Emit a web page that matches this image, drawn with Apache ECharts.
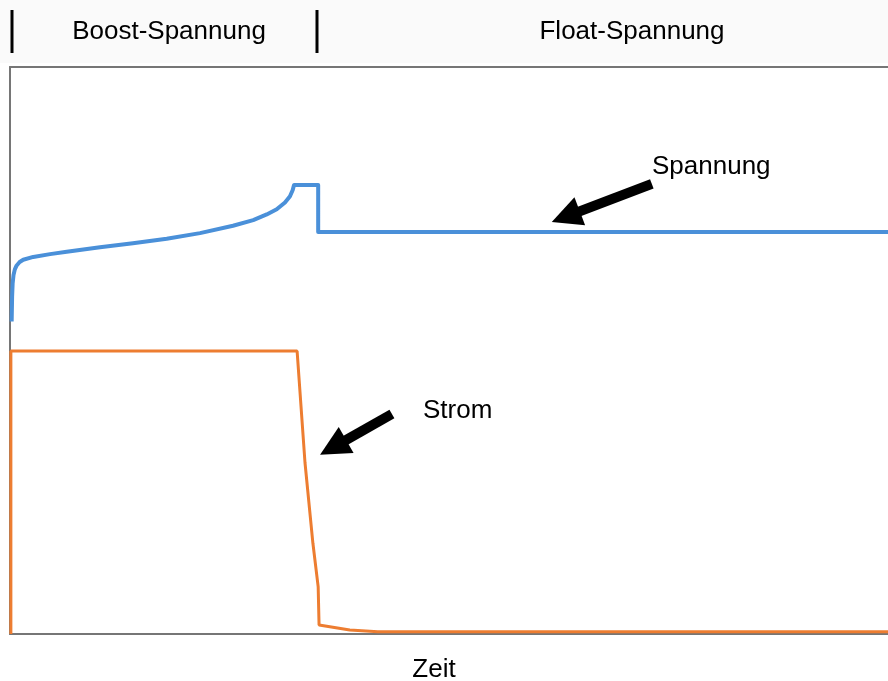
<!DOCTYPE html>
<html>
<head>
<meta charset="utf-8">
<script src="https://cdn.jsdelivr.net/npm/echarts@6/dist/echarts.min.js"></script>
<style>
  html, body { margin: 0; padding: 0; background: #fff; }
  #main { width: 888px; height: 681px; }
</style>
</head>
<body>
<div id="main"></div>
<script>
// time in % of the window, values in % of plot height
const spannungZeit = [0.19, 0.24, 0.3, 0.4, 0.55, 0.76, 1.1, 1.51, 2.65, 4.56, 6.46, 10.25, 14.0, 17.85, 21.64, 25.4, 27.7, 29.24, 30.38, 31.32, 31.89, 32.2, 32.35, 35.1, 35.1, 100]
const spannungWert = [55.1, 59.5, 61.8, 63.3, 64.3, 65.0, 65.6, 66.0, 66.5, 67.0, 67.4, 68.2, 68.9, 69.7, 70.7, 72.0, 73.0, 74.0, 74.9, 76.1, 77.2, 78.3, 79.2, 79.2, 70.9, 70.9]
const stromZeit = [0.1, 0.1, 32.7, 33.6, 34.5, 35.1, 35.2, 38.7, 41.9, 100]
const stromWert = [0, 49.9, 49.9, 30.2, 16.0, 8.3, 1.6, 0.7, 0.4, 0.4]
const phasen = ['Boost-Spannung', 'Float-Spannung']
const phasenMitte = [169, 632]
const phasenTrenner = [12, 317]

const chart = echarts.init(document.getElementById('main'))

const pair = (xs, ys) => xs.map((x, i) => [x, ys[i]])
const axisGray = '#767676'
const font = 'Arial, "Liberation Sans", sans-serif'
const txt = (s, x, y, align) => ({type: 'text', x: x, y: y, style: {text: s, fill: '#000', font: '26px ' + font, align: align, verticalAlign: 'middle'}})

const graphic = []
graphic.push({type: 'rect', shape: {x: 0, y: 0, width: 888, height: 63}, style: {fill: '#fafafa'}, z: -1})
phasenTrenner.forEach(x => {
  graphic.push({type: 'rect', shape: {x: x - 1.5, y: 10, width: 3, height: 43}, style: {fill: '#000'}})
})
phasen.forEach((p, i) => graphic.push(txt(p, phasenMitte[i], 32, 'center')))
graphic.push(txt('Zeit', 434, 670, 'center'))
graphic.push(txt('Spannung', 652, 167, 'left'))
graphic.push(txt('Strom', 423, 411, 'left'))

const arrow = (from, to) => ({
  silent: true, symbol: ['none', 'triangle'], symbolSize: [30, 30],
  lineStyle: {color: '#000', width: 10, type: 'solid', cap: 'butt'},
  itemStyle: {color: '#000'},
  label: {show: false},
  data: [[{coord: from}, {coord: to}]]
})

chart.setOption({
  animation: false,
  backgroundColor: '#fff',
  grid: {left: 10, right: 0, top: 67, bottom: 47},
  xAxis: [
    {type: 'value', min: 0, max: 100, axisLine: {lineStyle: {color: axisGray, width: 2}}, axisTick: {show: false}, axisLabel: {show: false}, splitLine: {show: false}},
    {type: 'value', position: 'top', min: 0, max: 100, axisLine: {show: true, lineStyle: {color: axisGray, width: 2}}, axisTick: {show: false}, axisLabel: {show: false}, splitLine: {show: false}}
  ],
  yAxis: {type: 'value', min: 0, max: 100, axisLine: {show: true, lineStyle: {color: axisGray, width: 2}}, axisTick: {show: false}, axisLabel: {show: false}, splitLine: {show: false}},
  graphic: graphic,
  series: [
    {
      name: 'Strom', type: 'line', data: pair(stromZeit, stromWert), showSymbol: false,
      lineStyle: {color: '#ed7d31', width: 3}, z: 3,
      markLine: arrow([43.5, 38.8], [36.8, 32.9])
    },
    {
      name: 'Spannung', type: 'line', data: pair(spannungZeit, spannungWert), showSymbol: false,
      lineStyle: {color: '#4a90d9', width: 4, join: 'round'}, z: 3,
      markLine: arrow([73.1, 79.4], [63.3, 73.6])
    }
  ]
})
</script>
</body>
</html>
